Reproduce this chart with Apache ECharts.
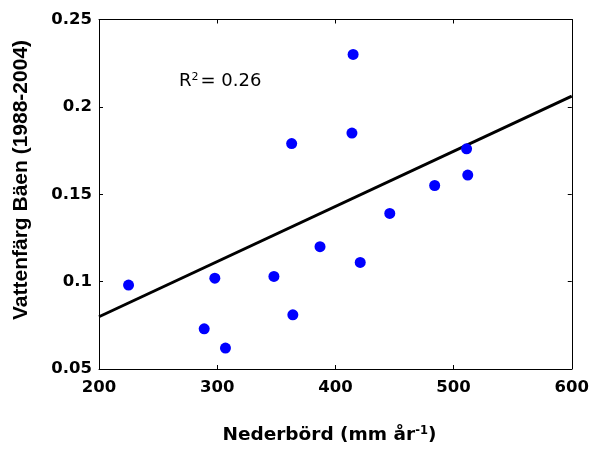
<!DOCTYPE html>
<html>
<head>
<meta charset="utf-8">
<script src="https://cdn.jsdelivr.net/npm/echarts@6/dist/echarts.min.js"></script>
<style>
html,body{margin:0;padding:0;background:#fff;}
#c{width:592px;height:450px;}
</style>
</head>
<body>
<div id="c"></div>
<script>
// Data
var precip = [225, 289, 298, 307, 348, 364, 363, 415, 414, 387, 421, 446, 484, 511, 512];
var colour = [0.098, 0.073, 0.102, 0.062, 0.103, 0.081, 0.179, 0.230, 0.185, 0.120, 0.111, 0.139, 0.155, 0.176, 0.161];
var fitX = [200, 600];
var fitY = [0.0799, 0.2062];
var xTicks = [200, 300, 400, 500, 600];
var yTicks = [0.05, 0.1, 0.15, 0.2, 0.25];
var r2Text = '0.26';

var WIDE = 'DejaVu Sans, Verdana, sans-serif';
var ARIAL = 'Liberation Sans, Arial, sans-serif';
var chart = echarts.init(document.getElementById('c'), null, {renderer: 'canvas'});

var pts = precip.map(function (x, i) { return [x, colour[i]]; });
var fit = fitX.map(function (x, i) { return [x, fitY[i]]; });

function fmtY(v) {
  return String(Math.round(v * 100) / 100);
}

var axisCommon = {
  axisLine: {show: true, onZero: false, lineStyle: {color: '#000', width: 1}},
  axisTick: {show: true, inside: true, length: 4, lineStyle: {color: '#000'}},
  splitLine: {show: false}
};

chart.setOption({
  animation: false,
  backgroundColor: '#fff',
  grid: {left: 99, right: 20, top: 19.5, bottom: 78, containLabel: false},
  xAxis: [
    Object.assign({
      type: 'value', min: 200, max: 600, interval: 100, position: 'bottom',
      axisLabel: {
        show: true, margin: 10, color: '#000', fontFamily: WIDE, fontWeight: 'bold', fontSize: 16.5,
        formatter: function (v) { return xTicks.indexOf(v) >= 0 ? String(v) : ''; }
      },
      name: 'Nederbörd (mm år{sup|-1})',
      nameLocation: 'middle', nameGap: 56,
      nameTextStyle: {
        color: '#000', fontFamily: WIDE, fontWeight: 'bold', fontSize: 18.5,
        padding: [0, 12, 0, 0],
        rich: {sup: {fontSize: 11.5, fontWeight: 'bold', fontFamily: WIDE, color: '#000', verticalAlign: 'top', padding: [0, 0, 9, 0]}}
      }
    }, axisCommon),
    Object.assign({
      type: 'value', min: 200, max: 600, interval: 100, position: 'top',
      axisLabel: {show: false}
    }, axisCommon)
  ],
  yAxis: [
    Object.assign({
      type: 'value', min: 0.05, max: 0.25, interval: 0.05, position: 'left',
      axisLabel: {
        show: true, margin: 7, color: '#000', fontFamily: WIDE, fontWeight: 'bold', fontSize: 16.5,
        formatter: fmtY
      }
    }, axisCommon),
    Object.assign({
      type: 'value', min: 0.05, max: 0.25, interval: 0.05, position: 'right',
      axisLabel: {show: false}
    }, axisCommon)
  ],
  graphic: [
    {
      type: 'text', left: 179, top: 72,
      style: {
        text: 'R{sup|2}= ' + r2Text,
        font: 'normal 18px ' + WIDE, fill: '#000',
        rich: {sup: {fontSize: 11, fontFamily: WIDE, fill: '#000', verticalAlign: 'top', padding: [0, 2, 8, 0]}}
      }
    },
    {
      type: 'text', x: 21, y: 180, rotation: Math.PI / 2,
      style: {
        text: 'Vattenfärg Bäen (1988-2004)',
        font: 'bold 21px ' + ARIAL, fill: '#000',
        align: 'center', verticalAlign: 'middle'
      }
    }
  ],
  series: [
    {
      type: 'line', data: fit, xAxisIndex: 0, yAxisIndex: 0,
      showSymbol: false, symbol: 'none',
      lineStyle: {color: '#000', width: 3}, z: 2
    },
    {
      type: 'scatter', data: pts, xAxisIndex: 0, yAxisIndex: 0,
      symbol: 'circle', symbolSize: 11,
      itemStyle: {color: '#0000ff', opacity: 1}, z: 3
    }
  ]
});
</script>
</body>
</html>
